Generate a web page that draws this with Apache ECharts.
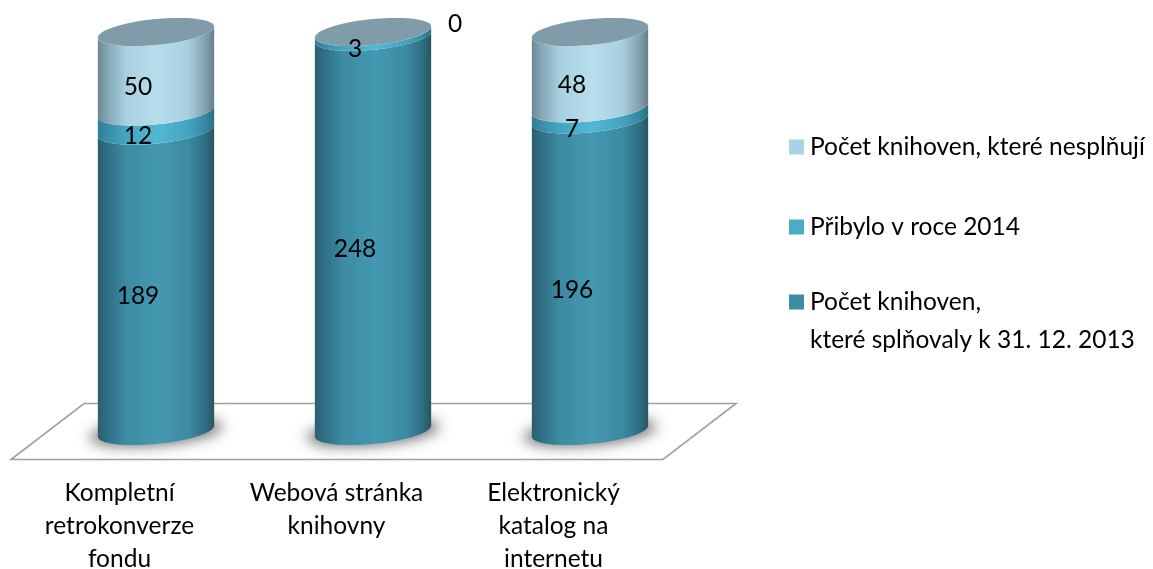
<!DOCTYPE html>
<html><head><meta charset="utf-8">
<style>html,body{margin:0;padding:0;background:#fff}#c{width:1153px;height:569px}</style>
<script src="https://cdn.jsdelivr.net/npm/echarts@6/dist/echarts.min.js"></script>
</head><body><div id="c"></div>
<script>
const categories = ['Kompletní\nretrokonverze\nfondu', 'Webová stránka\nknihovny', 'Elektronický\nkatalog na\ninternetu'];
const metValues = [189, 248, 196];
const addedValues = [12, 3, 7];
const unmetValues = [50, 0, 48];
const metName = 'Počet knihoven,\nkteré splňovaly k 31. 12. 2013';
const addedName = 'Přibylo v roce 2014';
const unmetName = 'Počet knihoven, které nesplňují';

const FONT = 'Lato';
const FS = 24.5;
const TILT = 5.5, DEPTH = 13;
function grad(stops){
  return {type:'linear',x:0,y:0,x2:1,y2:0,colorStops:stops.map((c,i)=>({offset:[0,.08,.24,.52,.78,.92,1][i],color:c}))};
}
const metGrad = grad(['#2a5f70','#2f6f84','#3c8aa3','#4598b1','#3c8aa3','#2f6f84','#285562']);
const addedGrad = grad(['#2f7d92','#378ea8','#45a5c0','#52b7d6','#45a4bf','#358aa3','#2a6f84']);
const unmetGrad = grad(['#6c8794','#85a5b3','#a8d0e0','#b8deec','#a8cfdf','#84a2af','#66808c']);

function arc(cx, cy, rx, from, to){
  const pts = [], n = 48;
  for(let i=0;i<=n;i++){
    const t = from + (to-from)*i/n;
    pts.push([cx + rx*Math.cos(t), cy + DEPTH*Math.sin(t) - TILT*Math.cos(t)]);
  }
  return pts;
}
const OFF = 3000;
function makeRender(fill, opts){
  opts = opts || {};
  return function(params, api){
    const cat = api.value(0), start = api.value(1), end = api.value(2);
    const p0 = api.coord([cat, start]), p1 = api.coord([cat, end]);
    const rx = params.coordSys.width/categories.length*0.268;
    const cx = p0[0], children = [];
    if(opts.shadow){
      children.push({type:'polygon',shape:{points:arc(cx-OFF,p0[1]+1,rx+8,0,Math.PI*2)},
        style:{fill:'#000',shadowBlur:14,shadowOffsetX:OFF,shadowColor:'rgba(75,75,75,.8)'},z2:1});
    }
    if(end>start){
      children.push({type:'polygon',
        shape:{points:arc(cx,p0[1],rx,0,Math.PI).concat(arc(cx,p1[1],rx,Math.PI,0))},
        style:{fill:fill},z2:2});
    }
    if(opts.cap){
      children.push({type:'polygon',shape:{points:arc(cx,p1[1],rx,0,Math.PI*2)},style:{fill:'#7f9ca8'},z2:3});
    }
    const v = end-start;
    const isZero = v===0;
    children.push({type:'text',z2:10,
      x: isZero ? cx+rx+24 : cx-18,
      y: isZero ? p1[1]-8 : (p0[1]+p1[1])/2+15,
      style:{text:String(v),font:FS+'px '+FONT,fill:'#000',align:'center',verticalAlign:'middle'}});
    return {type:'group',children};
  };
}
function rows(starts, values){
  return values.map((v,i)=>[i, starts[i], starts[i]+v]);
}
const zero = metValues.map(()=>0);
const metTop = metValues.slice();
const addedTop = metValues.map((v,i)=>v+addedValues[i]);

function mkSeries(name,color,data,render){
  return {name,type:'custom',coordinateSystem:'cartesian2d',itemStyle:{color},data,renderItem:render,
    encode:{x:0,y:[1,2]},clip:false,silent:true};
}
function mkLegend(name,top){
  return {data:[name],left:789,top,orient:'vertical',selectedMode:false,itemWidth:15,itemHeight:15,itemGap:0,padding:0,
    icon:'rect',textStyle:{fontFamily:FONT,fontSize:FS,color:'#000',lineHeight:38,padding:[0,0,0,1]}};
}
const chart = echarts.init(document.getElementById('c'),null,{renderer:'canvas'});
chart.setOption({
  animation:false,
  backgroundColor:'#fff',
  grid:{left:47.5,width:651,top:32,bottom:138,outerBoundsMode:'none',containLabel:false},
  xAxis:{type:'category',data:categories,axisLine:{show:false},axisTick:{show:false},
    axisLabel:{margin:46,interval:0,fontFamily:FONT,fontSize:FS,color:'#000',lineHeight:33,align:'center',padding:[0,73,0,0],hideOverlap:false}},
  yAxis:{type:'value',min:0,max:251,show:false,splitLine:{show:false}},
  legend:[mkLegend(unmetName,128),mkLegend(addedName,208),
    Object.assign(mkLegend(metName,245),{formatter:n=>'\n'+n})],
  graphic:[{type:'polygon',z:0,shape:{points:[[84,403.5],[736,403.5],[663,459.5],[11,459.5]]},
    style:{fill:'#fff',stroke:'#a0a0a0',lineWidth:1.6}}],
  series:[
    mkSeries(metName,'#3d8ba4',rows(zero,metValues),makeRender(metGrad,{shadow:true})),
    mkSeries(addedName,'#4bacc6',rows(metTop,addedValues),makeRender(addedGrad)),
    mkSeries(unmetName,'#a9d2e2',rows(addedTop,unmetValues),makeRender(unmetGrad,{cap:true}))
  ]
});
</script></body></html>
